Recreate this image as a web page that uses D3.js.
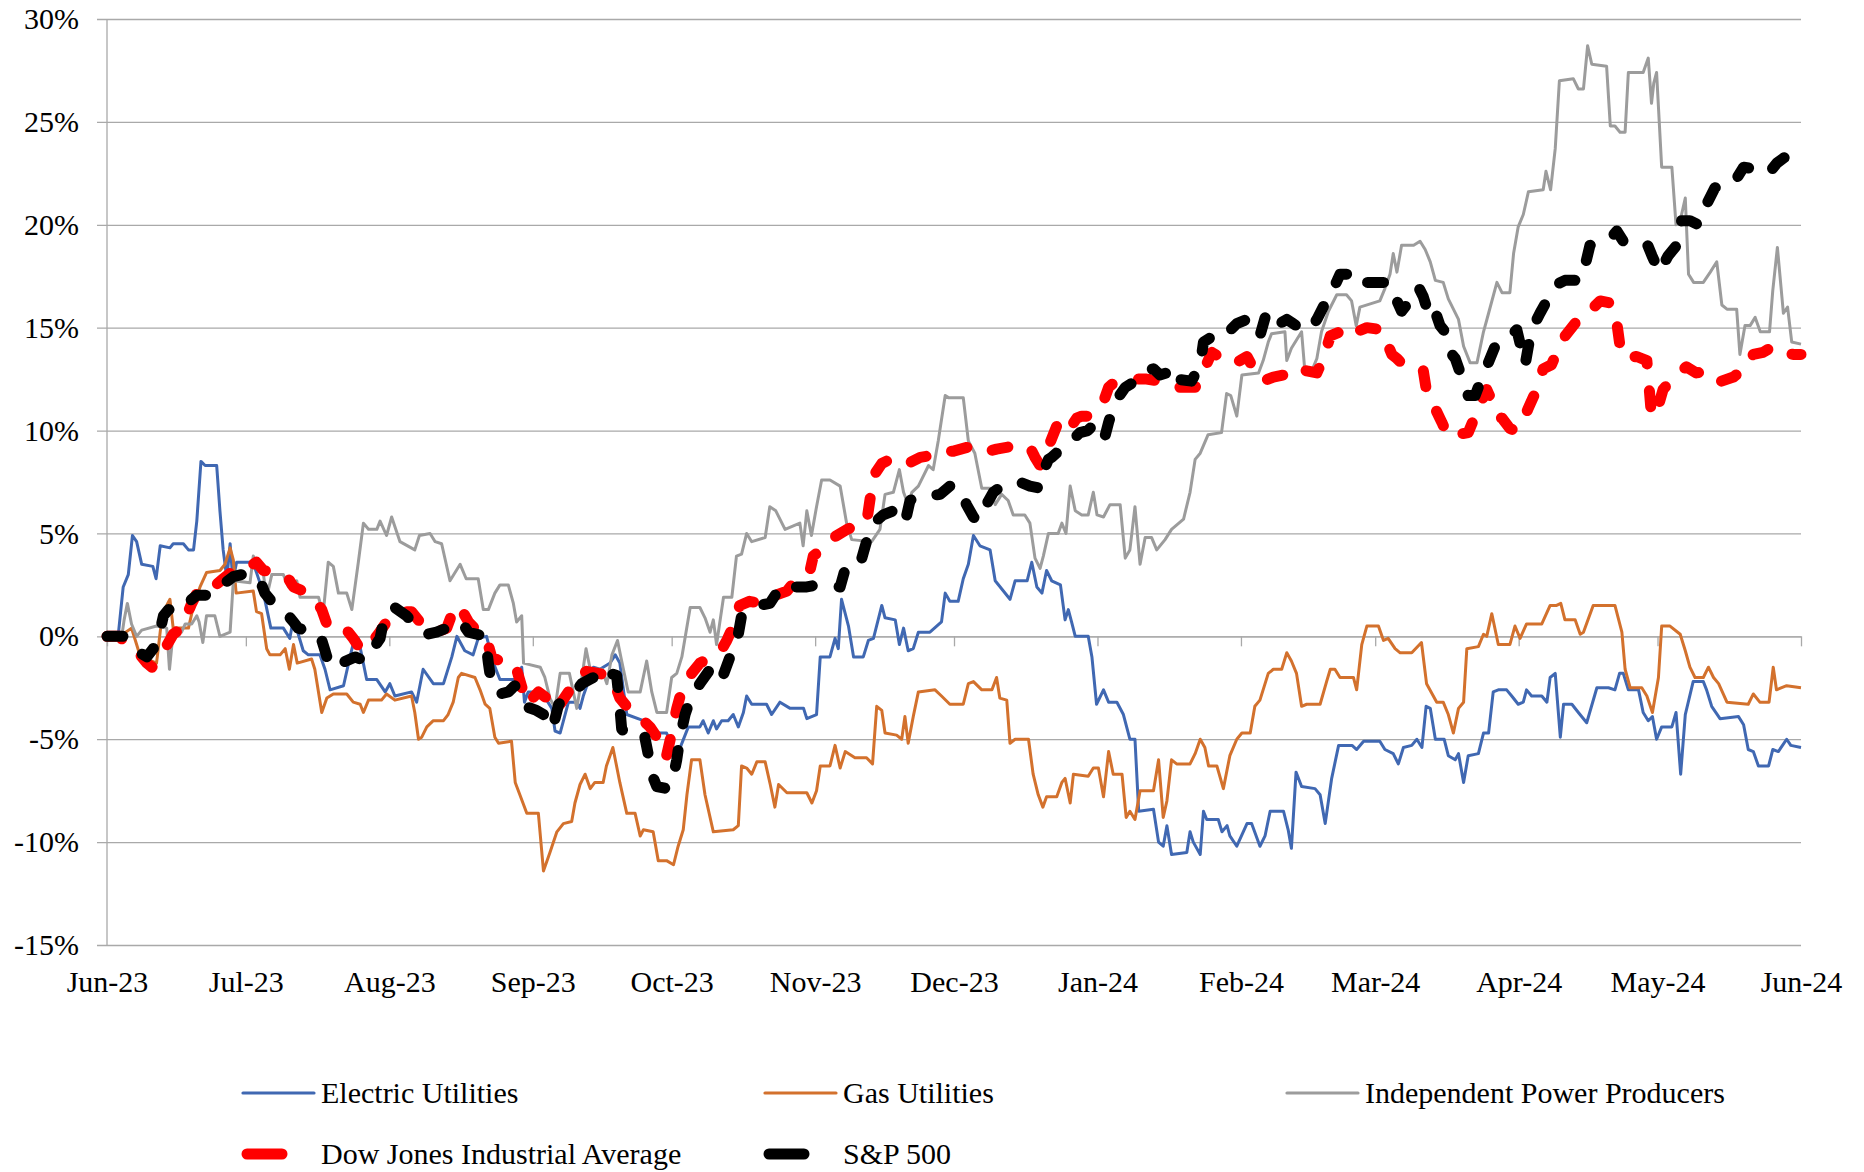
<!DOCTYPE html>
<html>
<head>
<meta charset="utf-8">
<script src="https://cdn.jsdelivr.net/npm/d3@7"></script>
<style>
  body { margin: 0; background: #fff; }
  text { font-family: "Liberation Serif", "Times New Roman", serif; fill: #000; }
</style>
</head>
<body>
<div id="chart"></div>
<script>
// x values are days since 1 Jun 2023, y values are % change
const startDate = new Date(2023, 5, 1);
const endDate = new Date(2024, 5, 1);
const monthTicks = [
  [2023, 5], [2023, 6], [2023, 7], [2023, 8], [2023, 9], [2023, 10], [2023, 11],
  [2024, 0], [2024, 1], [2024, 2], [2024, 3], [2024, 4], [2024, 5]
];
const monthLabels = ["Jun-23", "Jul-23", "Aug-23", "Sep-23", "Oct-23", "Nov-23", "Dec-23",
  "Jan-24", "Feb-24", "Mar-24", "Apr-24", "May-24", "Jun-24"];
const yTicks = [-15, -10, -5, 0, 5, 10, 15, 20, 25, 30];
const seriesNames = ["Electric Utilities", "Gas Utilities", "Independent Power Producers",
  "Dow Jones Industrial Average", "S&P 500"];

const electric = [[0,0],[2.4,0],[3.5,2.4],[4.6,3.0],[5.5,4.9],[6.4,4.6],[7.5,3.5],[9.9,3.4],[10.6,2.8],[11.5,4.4],[13.6,4.3],[14.3,4.5],[16.5,4.5],[17.6,4.2],[18.7,4.2],[19.4,5.6],[20.3,8.5],[21.2,8.3],[23.7,8.3],[24.4,6.1],[25.1,4.2],[25.9,2.8],[26.6,4.5],[27.2,2.7],[28.0,3.6],[30.9,3.6],[32.0,3.3],[33.8,2.1],[35.4,0.4],[38.1,0.4],[39.5,-0.1],[40.3,0.9],[41.2,0.2],[42.4,-0.7],[43.5,-0.9],[46.0,-0.9],[47.1,-1.6],[48.2,-2.6],[51.1,-2.4],[52.5,-1.0],[53.6,0],[54.3,-0.1],[56.1,-2.1],[58.3,-2.1],[60.1,-2.7],[61.1,-2.3],[62.2,-2.9],[65.8,-2.7],[66.9,-3.2],[68.3,-1.6],[70.5,-2.3],[72.7,-2.3],[74.5,-1.0],[75.6,0],[77.3,-0.7],[79.1,-0.9],[80.2,-0.1],[82.0,0],[83.5,-1.3],[84.9,-2.1],[88.9,-2.1],[89.6,-1.5],[90.2,-3.2],[91.0,-2.7],[93.9,-2.7],[96.1,-3.5],[96.8,-4.6],[97.9,-4.7],[99.7,-3.2],[101.5,-3.2],[102.2,-3.5],[102.9,-2.9],[105.1,-1.5],[106.5,-1.6],[108.7,-1.3],[109.8,-0.9],[110.8,-1.3],[112.3,-3.8],[115.9,-4.1],[118.8,-4.7],[120.9,-4.7],[122.4,-5.5],[123.4,-5.7],[124.2,-5.2],[125.6,-4.4],[128.1,-4.4],[128.8,-4.1],[129.9,-4.7],[131.0,-4.1],[131.7,-4.5],[132.8,-4.1],[134.2,-4.1],[135.3,-3.8],[136.4,-4.4],[137.5,-3.7],[138.2,-2.9],[139.3,-3.3],[142.5,-3.3],[143.6,-3.8],[145.4,-3.2],[147.6,-3.5],[150.5,-3.5],[151.2,-4.0],[153.3,-3.8],[154.1,-1.0],[156.2,-1.0],[157.3,-0.1],[158.0,-0.6],[158.7,1.8],[160.2,0.5],[161.3,-1.0],[163.4,-1.0],[164.5,-0.2],[165.6,-0.1],[167.4,1.5],[168.1,0.9],[170.3,0.8],[171.2,-0.4],[172.1,0.4],[173.1,-0.7],[174.2,-0.6],[175.3,0.2],[177.8,0.2],[180.3,0.7],[181.1,2.1],[182.1,1.7],[183.9,1.7],[185.0,2.8],[186.1,3.5],[187.2,4.9],[188.6,4.4],[190.8,4.2],[191.9,2.7],[195.1,1.8],[196.2,2.7],[198.8,2.7],[199.8,3.6],[200.9,2.4],[202.0,2.1],[203.0,3.2],[204.1,2.7],[206.0,2.5],[207.0,0.8],[207.7,1.3],[208.4,0.7],[209.2,0],[212.0,0],[212.8,-1.0],[213.8,-3.3],[215.3,-2.6],[216.4,-3.2],[218.2,-3.2],[219.6,-3.8],[221.0,-5.0],[222.1,-5.0],[222.9,-8.5],[226.1,-8.4],[227.2,-10.0],[228.2,-10.2],[229.0,-9.2],[230.0,-10.6],[233.3,-10.5],[234.0,-9.5],[234.7,-10.0],[236.2,-10.6],[236.9,-8.5],[237.6,-8.9],[240.1,-8.9],[240.9,-9.5],[242.0,-9.2],[242.6,-9.7],[244.1,-10.2],[246.3,-9.1],[247.3,-9.1],[249.1,-10.2],[250.2,-9.7],[251.3,-8.5],[254.2,-8.5],[255.2,-9.4],[255.9,-10.3],[256.9,-6.6],[258.1,-7.3],[261.0,-7.4],[262.1,-7.7],[263.2,-9.1],[264.6,-6.9],[266.1,-5.3],[269.0,-5.3],[270.0,-5.5],[271.5,-5.1],[275.0,-5.1],[276.1,-5.5],[277.9,-5.7],[279.0,-6.2],[280.1,-5.4],[281.9,-5.3],[283.0,-5.0],[284.1,-5.4],[285.0,-3.4],[285.9,-3.5],[287.0,-5.0],[288.9,-5.0],[289.8,-5.8],[291.3,-6.0],[292.0,-5.7],[293.1,-7.1],[294.1,-5.8],[296.3,-5.7],[297.4,-4.7],[298.5,-4.7],[299.5,-2.7],[300.6,-2.6],[302.4,-2.6],[303.5,-2.9],[304.9,-3.3],[306.0,-3.2],[306.7,-2.6],[307.8,-2.9],[310.0,-2.9],[311.1,-3.2],[311.8,-2.0],[312.9,-1.8],[314.0,-4.9],[314.7,-3.3],[316.5,-3.3],[317.9,-3.7],[319.7,-4.2],[321.9,-2.5],[324.4,-2.5],[325.8,-2.6],[326.8,-1.8],[327.6,-1.8],[328.7,-2.6],[330.9,-2.6],[331.9,-3.7],[333.0,-4.1],[333.9,-3.9],[334.8,-5.0],[335.9,-4.4],[338.1,-4.4],[339.0,-3.7],[340.0,-6.7],[341.0,-3.8],[342.7,-2.2],[344.9,-2.2],[345.6,-2.6],[346.7,-3.4],[348.5,-4.0],[352.5,-3.9],[353.6,-4.3],[354.6,-5.5],[355.7,-5.6],[356.8,-6.3],[359.0,-6.3],[359.9,-5.5],[361.1,-5.6],[362.9,-5.0],[363.8,-5.3],[366,-5.4]];

const gas = [[0,0],[2.8,0],[5.3,0.4],[6.4,-0.4],[7.5,-1.2],[9.7,-1.2],[10.7,-1.3],[11.8,0.8],[12.9,1.5],[13.6,1.8],[14.3,0.4],[17.6,0.4],[18.7,1.5],[20.1,2.4],[21.5,3.1],[24.4,3.2],[25.5,3.5],[26.6,4.3],[27.3,3.7],[27.9,2.1],[31.6,2.2],[32.3,1.2],[33.4,1.1],[34.5,-0.6],[35.2,-0.9],[37.4,-0.9],[38.5,-0.6],[39.4,-1.6],[40.3,-0.4],[41.1,-1.3],[44.2,-1.1],[44.9,-1.6],[46.4,-3.7],[47.5,-3.0],[48.9,-2.8],[51.8,-2.8],[53.2,-3.2],[54.7,-3.3],[55.4,-3.7],[56.5,-3.1],[59.3,-3.1],[60.4,-2.8],[62.2,-3.1],[65.8,-2.9],[66.5,-3.7],[67.3,-5.0],[68.0,-4.9],[69.1,-4.4],[70.5,-4.1],[72.7,-4.1],[73.7,-3.8],[74.8,-3.2],[75.9,-2.0],[76.6,-1.8],[79.5,-2.0],[80.6,-2.6],[81.7,-3.3],[82.7,-3.5],[83.8,-4.9],[84.6,-5.2],[87.4,-5.1],[88.2,-7.1],[89.2,-7.7],[90.7,-8.6],[93.2,-8.6],[94.3,-11.4],[95.7,-10.5],[97.2,-9.5],[98.6,-9.1],[100.4,-9.0],[101.1,-8.1],[102.2,-7.2],[103.3,-6.7],[104.4,-7.4],[105.4,-7.1],[107.2,-7.1],[107.9,-6.3],[109.3,-5.4],[110.8,-7.1],[112.3,-8.6],[114.1,-8.6],[115.2,-9.7],[115.9,-9.4],[118.0,-9.5],[119.1,-10.9],[120.9,-10.9],[122.4,-11.1],[123.4,-10.2],[124.5,-9.4],[125.3,-7.7],[126.3,-6.0],[128.1,-6.0],[129.2,-7.7],[131.0,-9.5],[135.3,-9.4],[136.4,-9.2],[137.1,-6.3],[138.2,-6.4],[139.3,-6.7],[140.4,-6.1],[142.2,-6.1],[143.3,-7.2],[144.3,-8.3],[145.1,-7.2],[146.9,-7.6],[151.2,-7.6],[152.3,-8.1],[153.3,-7.5],[154.1,-6.3],[156.2,-6.3],[157.3,-5.3],[158.4,-6.4],[159.5,-5.6],[161.6,-5.9],[164.1,-5.9],[165.4,-6.2],[166.3,-3.4],[167.4,-3.6],[168.1,-4.7],[170.6,-4.8],[171.7,-5.0],[172.4,-3.9],[173.1,-5.2],[174.2,-3.9],[175.3,-2.7],[178.9,-2.6],[180.3,-2.9],[182.1,-3.3],[185.0,-3.3],[186.1,-2.3],[187.2,-2.2],[189.0,-2.6],[191.2,-2.6],[192.2,-2.0],[192.9,-3.0],[194.4,-3.1],[195.1,-5.2],[196.2,-5.0],[199.1,-5.0],[200.1,-6.7],[201.2,-7.7],[202.2,-8.3],[203.0,-7.8],[205.2,-7.8],[206.3,-7.1],[207.0,-6.9],[208.1,-8.1],[208.8,-6.7],[212.0,-6.8],[213.1,-6.4],[214.2,-6.4],[215.3,-7.8],[216.4,-5.6],[217.4,-6.7],[219.3,-6.7],[220.2,-8.8],[221.0,-8.5],[222.1,-8.9],[223.2,-7.5],[226.1,-7.5],[227.2,-6.0],[228.2,-8.8],[229.0,-8.0],[230.0,-6.0],[231.1,-6.2],[234.0,-6.2],[235.1,-5.7],[236.2,-5.0],[237.2,-5.4],[238.0,-6.3],[239.8,-6.3],[241.2,-7.4],[242.6,-5.8],[244.1,-5.0],[245.2,-4.7],[247.0,-4.7],[248.0,-3.4],[249.1,-3.1],[250.9,-1.8],[252.0,-1.6],[253.8,-1.6],[254.9,-0.8],[255.9,-1.2],[257.0,-1.8],[258.1,-3.4],[259.2,-3.3],[262.1,-3.3],[263.5,-2.2],[264.3,-1.6],[265.3,-1.6],[266.4,-2.0],[269.3,-2.0],[270.0,-2.6],[271.1,-0.4],[272.2,0.5],[274.7,0.5],[275.8,-0.2],[276.8,-0.1],[278.3,-0.6],[279.4,-0.8],[281.9,-0.8],[284.0,-0.3],[285.1,-2.3],[287.3,-3.2],[288.7,-3.2],[289.8,-3.8],[290.9,-4.7],[292.0,-3.5],[293.1,-3.2],[293.8,-0.6],[296.3,-0.5],[297.4,0.1],[298.1,0],[299.2,1.1],[300.6,-0.4],[303.1,-0.4],[304.2,0.5],[305.3,-0.1],[306.7,0.6],[310.0,0.6],[311.8,1.5],[313.2,1.5],[314.1,1.6],[315.0,0.8],[317.2,0.8],[318.3,0.1],[319.0,0.2],[321.1,1.5],[325.8,1.5],[327.3,0.2],[328.0,-1.6],[329.1,-2.5],[331.6,-2.5],[332.7,-2.9],[333.9,-3.7],[335.2,-2.0],[335.9,0.5],[337.7,0.5],[339.9,0.1],[341.0,-0.7],[342.0,-1.5],[343.1,-2.0],[344.9,-2.0],[346.0,-1.5],[347.1,-2.0],[348.2,-2.3],[350.0,-3.2],[354.6,-3.3],[355.7,-2.8],[357.1,-3.2],[359.1,-3.2],[360.0,-1.5],[360.7,-2.6],[362.9,-2.4],[366,-2.5]];

const ipp = [[0,0],[3.2,0],[3.7,0.8],[4.4,1.6],[5.3,0.6],[6.4,0],[7.5,0.3],[10.7,0.5],[12.9,0.4],[13.5,-1.6],[14.3,0.2],[16.1,0.2],[16.9,0.6],[18.3,0.6],[19.4,1.0],[19.9,0.7],[20.7,-0.3],[21.5,1.0],[23.3,1.0],[24.4,0],[26.6,0.2],[27.3,2.7],[30.9,2.6],[31.6,3.9],[33.8,3.0],[34.5,1.9],[35.6,3.0],[38.1,3.0],[39.2,2.4],[41.0,2.7],[41.7,1.9],[45.7,1.9],[46.7,1.1],[47.8,3.6],[48.9,3.4],[50.0,2.1],[51.8,2.1],[52.9,1.3],[54.3,3.6],[55.4,5.5],[56.5,5.2],[58.3,5.2],[59.0,5.6],[60.4,4.9],[61.5,5.8],[63.3,4.6],[66.5,4.2],[67.5,4.9],[69.8,5.0],[70.9,4.6],[72.3,4.5],[74.1,2.7],[76.3,3.5],[77.6,2.8],[80.2,2.8],[81.3,1.3],[82.4,1.3],[83.8,2.1],[84.9,2.5],[86.7,2.5],[87.8,1.6],[88.5,0.7],[89.6,1.0],[90.0,-1.3],[93.6,-1.5],[94.6,-2.0],[95.7,-3.0],[96.8,-3.5],[97.9,-1.8],[99.9,-1.8],[101.5,-3.5],[102.6,-2.0],[103.5,-0.6],[104.4,-1.6],[106.9,-1.6],[108.0,-2.3],[109.1,-0.9],[110.3,-0.2],[111.2,-1.2],[112.6,-2.7],[115.2,-2.7],[116.6,-1.2],[117.7,-2.7],[118.8,-3.7],[120.9,-3.7],[122.0,-2.0],[123.1,-1.8],[124.2,-1.0],[126.0,1.4],[128.1,1.4],[129.2,0.9],[130.3,0.2],[131.0,0.8],[131.7,-0.4],[133.2,1.9],[135.0,1.9],[136.0,3.9],[137.1,4.0],[138.2,5.0],[139.3,4.6],[142.2,4.8],[143.2,6.3],[144.5,6.1],[146.5,5.2],[149.7,5.5],[150.4,4.4],[151.2,6.1],[152.2,4.9],[153.3,6.3],[154.4,7.6],[156.2,7.6],[158.4,7.3],[159.8,5.5],[160.9,4.7],[165.2,4.6],[167.0,5.2],[168.1,6.9],[169.9,7.0],[171.2,8.1],[172.1,7.0],[173.1,6.4],[173.9,7.0],[175.3,7.3],[177.5,8.3],[178.5,8.1],[179.6,9.5],[181.1,11.7],[181.8,11.6],[185.0,11.6],[186.1,9.5],[187.5,8.9],[189.0,7.2],[190.8,7.2],[191.9,6.4],[193.3,6.9],[194.7,6.6],[195.8,5.9],[198.3,5.9],[199.4,5.5],[200.5,3.8],[201.6,3.3],[202.3,3.9],[203.4,5.0],[205.5,5.0],[206.3,5.5],[207.2,5.0],[208.1,7.3],[209.2,6.1],[210.6,5.9],[212.0,5.9],[213.1,7.0],[213.9,5.9],[215.3,5.8],[216.7,6.4],[218.9,6.4],[220.0,3.8],[221.0,4.2],[222.1,6.3],[223.2,3.5],[224.3,4.8],[225.7,4.8],[226.8,4.2],[228.6,4.7],[230.0,5.2],[232.6,5.7],[234.0,7.0],[235.1,8.6],[236.2,8.9],[237.9,9.8],[240.8,9.9],[241.9,11.8],[242.8,11.7],[244.1,10.7],[245.2,12.7],[248.8,12.8],[249.8,13.4],[250.9,14.3],[251.6,14.7],[254.5,14.8],[254.9,13.4],[255.9,14.0],[258.1,14.8],[258.8,12.9],[260.3,12.9],[261.4,13.5],[262.4,14.8],[263.9,15.8],[265.7,16.6],[267.8,16.6],[268.9,16.3],[269.9,15.1],[270.7,16.0],[275.0,16.3],[276.1,16.9],[277.2,17.6],[277.9,18.6],[278.7,17.7],[279.7,19.0],[282.3,19.0],[283.7,19.2],[284.8,18.8],[285.9,18.2],[287.0,17.3],[288.7,17.2],[289.8,16.4],[292.0,15.4],[293.1,14.1],[294.5,13.3],[296.0,13.3],[297.4,14.8],[298.5,15.7],[300.3,17.2],[301.4,16.7],[303.1,16.7],[303.9,18.6],[304.9,19.9],[306.0,20.5],[307.1,21.6],[310.3,21.7],[310.9,22.6],[311.9,21.7],[312.9,23.7],[313.8,27.0],[316.8,27.1],[317.9,26.6],[319.0,26.6],[319.9,28.7],[320.8,27.8],[324.0,27.7],[324.8,24.8],[325.8,24.8],[326.9,24.5],[328.0,24.5],[328.7,27.4],[331.9,27.4],[333.0,28.1],[333.7,25.9],[334.2,26.9],[334.8,27.4],[335.9,22.8],[338.1,22.8],[339.0,20.0],[339.9,20.2],[341.0,21.3],[341.7,17.6],[342.8,17.2],[344.9,17.2],[346.4,17.7],[347.8,18.2],[348.9,16.1],[350.0,15.9],[352.1,15.9],[352.8,13.7],[353.9,15.1],[355.0,15.1],[356.1,15.5],[357.2,14.8],[359.2,14.8],[359.9,16.8],[360.9,18.9],[362.2,15.7],[363.1,16.0],[364.0,14.3],[366,14.2]];

const dow = [[0,0],[2.8,0],[4.6,-0.6],[6.8,-0.8],[8.6,-1.3],[9.7,-1.5],[11.5,-1.0],[14.3,0.1],[16.1,0.4],[18.3,1.6],[20.1,2.4],[23.0,2.4],[25.1,2.8],[27.3,3.2],[29.5,3.2],[32.3,3.6],[33.8,3.2],[37.7,3.1],[39.2,2.8],[40.3,2.4],[42.4,2.2],[44.6,1.9],[46.4,1.3],[47.8,0.4],[51.8,0.3],[53.2,-0.1],[55.0,-0.7],[56.8,-0.4],[58.6,0.1],[60.4,0.7],[61.9,1.1],[63.3,1.2],[65.8,1.2],[67.6,0.7],[71.2,0.2],[73.4,0.4],[75.2,1.5],[76.6,1.3],[78.1,0.7],[80.6,0.1],[82.0,-0.1],[83.1,-1.0],[84.9,-1.2],[87.4,-1.2],[88.5,-1.6],[90.7,-3.3],[93.2,-2.7],[95.0,-3.0],[96.4,-3.7],[98.2,-3.2],[100.0,-2.6],[101.5,-2.0],[103.6,-1.7],[108.6,-1.9],[109.8,-2.4],[110.8,-3.0],[113.7,-3.8],[115.9,-4.1],[117.3,-4.4],[118.8,-4.9],[119.8,-5.8],[120.9,-5.8],[122.0,-4.7],[123.1,-3.5],[124.2,-2.6],[125.6,-2.0],[128.1,-1.3],[130.6,-1.0],[132.4,-0.8],[133.9,-0.2],[135.3,0.5],[136.7,1.5],[138.8,1.7],[141.4,1.6],[143.2,1.9],[146.9,2.2],[149.0,2.8],[151.9,3.2],[152.6,3.9],[153.7,4.1],[155.5,4.6],[157.7,4.9],[159.9,5.2],[162.0,5.4],[164.1,5.5],[165.6,7.8],[167.4,8.4],[169.2,8.6],[172.1,8.6],[173.1,8.4],[175.7,8.7],[178.5,8.8],[179.6,9.0],[182.9,9.0],[186.1,9.2],[189.0,8.9],[192.2,9.1],[194.7,9.2],[197.2,9.3],[199.4,9.2],[200.5,8.7],[201.6,8.3],[203.4,9.2],[205.5,10.4],[207.7,10.0],[209.5,10.6],[210.6,10.7],[212.3,10.7],[214.2,11.2],[215.3,11.4],[216.4,12.1],[217.4,12.3],[219.6,12.4],[221.7,12.5],[224.6,12.5],[227.5,12.4],[229.0,12.4],[231.8,12.1],[235.1,12.1],[236.9,12.9],[238.7,13.8],[240.9,13.5],[243.0,13.2],[244.8,13.4],[246.3,13.6],[248.0,12.9],[249.8,12.4],[252.0,12.6],[254.2,12.7],[256.3,13.1],[259.2,12.9],[261.4,12.8],[262.8,13.5],[264.3,14.6],[266.4,14.8],[268.6,14.5],[270.0,14.8],[272.2,15.0],[275.4,14.9],[276.5,14.3],[277.6,13.7],[278.7,13.5],[280.5,13.1],[283.0,13.1],[284.4,12.9],[285.1,11.9],[286.9,11.1],[288.4,10.4],[289.8,9.7],[291.6,9.8],[294.1,9.9],[296.3,11.1],[298.1,12.0],[299.5,11.3],[300.3,10.7],[301.4,10.6],[303.1,10.1],[304.2,10.0],[305.6,10.3],[307.1,11.1],[308.9,12.0],[310.3,13.0],[312.1,13.2],[313.6,14.0],[314.7,14.5],[316.8,15.1],[318.9,15.7],[320.8,15.9],[322.6,16.3],[324.7,16.2],[325.8,15.9],[326.9,14.1],[328.0,13.5],[330.5,13.6],[332.7,13.4],[333.7,10.7],[334.8,10.9],[336.2,12.0],[338.7,12.6],[341.2,13.1],[343.4,12.8],[346.3,12.9],[348.8,12.4],[351.4,12.6],[354.3,13.1],[355.7,13.7],[357.8,13.8],[360.0,14.1],[362.2,13.8],[364.3,13.7],[366,13.7]];

const sp500 = [[0,0],[3.5,0],[5.0,-0.2],[6.4,-0.7],[8.6,-1.0],[10.0,-0.6],[11.1,-0.1],[12.2,1.0],[13.3,1.3],[15.4,1.2],[17.2,1.6],[19.4,2.0],[22.3,2.0],[24.1,2.2],[25.5,2.6],[27.3,2.9],[29.1,3.0],[31.6,3.0],[33.1,2.7],[34.1,2.1],[35.9,1.6],[37.7,1.3],[38.8,1.1],[40.3,0.7],[41.3,0.4],[43.9,0.2],[46.0,0.1],[47.1,-0.7],[48.2,-1.5],[50.7,-1.3],[53.6,-1.0],[55.7,-1.2],[57.5,-0.6],[59.0,-0.1],[59.7,0.7],[61.1,1.3],[62.2,1.4],[64.7,1.0],[67.3,0.4],[69.1,0.1],[71.2,0.2],[73.4,0.4],[75.2,0.7],[76.6,0.7],[78.1,0.2],[81.7,0],[82.4,-1.3],[83.1,-2.4],[84.9,-2.8],[86.7,-2.7],[88.1,-2.4],[89.2,-3.0],[90.3,-3.4],[92.8,-3.6],[94.3,-3.8],[96.1,-4.5],[96.8,-4.0],[97.6,-3.3],[99.3,-3.0],[101.1,-2.7],[102.6,-2.3],[105.1,-2.0],[106.9,-2.3],[108.7,-1.8],[110.1,-1.9],[110.7,-3.2],[111.2,-4.5],[113.0,-5.0],[116.2,-4.9],[117.0,-5.8],[117.5,-6.6],[118.8,-7.3],[120.9,-7.4],[122.0,-7.2],[123.1,-6.0],[123.8,-4.9],[124.9,-3.8],[125.8,-3.2],[128.1,-2.3],[130.3,-1.6],[131.7,-1.6],[132.8,-2.1],[134.6,-1.0],[136.4,0.1],[137.1,1.0],[138.9,1.3],[140.7,1.5],[143.2,1.6],[145.8,2.5],[148.3,2.4],[151.2,2.4],[153.3,2.5],[155.5,2.5],[158.4,2.4],[159.4,3.2],[160.5,3.5],[162.7,3.5],[164.1,4.6],[165.6,5.5],[167.7,5.9],[169.9,6.1],[171.7,6.4],[172.7,5.8],[173.5,6.6],[174.9,6.8],[177.1,6.8],[180.0,6.9],[182.1,7.3],[184.3,7.2],[185.7,6.4],[187.2,5.8],[188.3,5.6],[190.0,6.4],[191.5,7.0],[193.3,7.3],[195.8,7.5],[197.2,7.5],[199.4,7.3],[201.6,7.2],[202.3,8.0],[203.4,8.6],[204.1,8.7],[206.6,9.2],[208.4,9.5],[210.2,9.9],[211.9,10.0],[213.8,10.4],[215.6,9.7],[216.4,10.4],[217.8,11.4],[220.0,12.1],[222.2,12.4],[224.0,12.9],[226.1,13.0],[227.5,12.7],[229.0,12.8],[230.0,13.1],[231.1,12.5],[234.3,12.4],[236.2,13.2],[236.9,14.3],[238.3,14.5],[240.5,14.4],[242.3,14.8],[244.1,15.2],[246.3,15.4],[247.7,15.2],[249.1,14.6],[250.6,15.8],[252.0,15.5],[253.4,15.2],[254.9,15.4],[256.3,15.2],[258.1,14.9],[259.9,14.9],[261.4,15.4],[263.2,16.2],[265.0,16.9],[266.4,17.6],[268.6,17.6],[270.0,17.1],[271.1,17.2],[276.1,17.2],[277.9,17.0],[278.7,16.3],[279.7,15.8],[281.5,16.3],[283.3,17.0],[284.4,16.5],[285.1,16.0],[286.2,16.3],[288.0,15.1],[289.1,14.8],[290.2,13.8],[291.3,13.5],[292.7,12.6],[294.1,11.7],[295.6,11.7],[296.6,12.3],[298.1,13.1],[299.9,14.1],[301.7,14.5],[303.1,14.6],[304.6,14.9],[306.4,13.2],[307.1,14.1],[307.8,14.9],[309.6,15.7],[311.8,16.6],[313.2,17.1],[315.0,17.3],[318.6,17.3],[320.4,19.0],[322.6,19.1],[324.7,19.3],[326.2,19.7],[327.6,19.2],[331.0,19.2],[332.7,19.1],[333.8,18.5],[335.4,17.7],[337.3,18.5],[339.5,19.1],[340.2,20.2],[342.0,20.2],[343.8,20.0],[345.6,21.0],[347.4,21.8],[349.2,21.9],[351.4,22.0],[352.5,22.4],[353.6,22.8],[356.4,22.7],[359.0,22.5],[360.8,23.0],[362.6,23.3],[364.0,22.9],[366,22.7]];

const width = 1864, height = 1172;
const plot = { left: 107, right: 1801, top: 19, bottom: 945 };
const gridColor = "#A9A9A9";

const svg = d3.select("#chart").append("svg")
  .attr("width", width)
  .attr("height", height);

const x = d3.scaleTime()
  .domain([startDate, endDate])
  .range([plot.left, plot.right]);

const y = d3.scaleLinear()
  .domain([-15, 30])
  .range([plot.bottom, plot.top]);

const toDate = d => new Date(startDate.getTime() + d * 864e5);
const tickDates = monthTicks.map(m => new Date(m[0], m[1], 1));

// gridlines + y labels (ticks stick out 10px left of the axis)
const yAxis = svg.append("g")
  .attr("transform", "translate(" + plot.right + ",0)")
  .call(d3.axisLeft(y)
    .tickValues(yTicks)
    .tickSize(plot.right - plot.left + 10)
    .tickPadding(18)
    .tickFormat(d => d + "%"));
yAxis.select(".domain").remove();
yAxis.selectAll("line").attr("stroke", gridColor).attr("stroke-width", 1.3);
yAxis.selectAll("text").style("font-size", "30px").style("font-family", "Liberation Serif");

// vertical axis line
svg.append("line")
  .attr("x1", plot.left).attr("x2", plot.left)
  .attr("y1", plot.top).attr("y2", plot.bottom)
  .attr("stroke", gridColor).attr("stroke-width", 1.3);

// category axis crosses at 0%
const xAxis = svg.append("g")
  .attr("transform", "translate(0," + y(0) + ")")
  .call(d3.axisBottom(x).tickValues(tickDates).tickSize(10).tickSizeOuter(0).tickFormat(""));
xAxis.selectAll("line, path").attr("stroke", gridColor).attr("stroke-width", 1.3);

// month labels sit at the bottom of the plot
const xLabels = svg.append("g")
  .attr("transform", "translate(0," + plot.bottom + ")")
  .call(d3.axisBottom(x).tickValues(tickDates).tickSize(0).tickPadding(26)
    .tickFormat((d, i) => monthLabels[i]));
xLabels.select(".domain").remove();
xLabels.selectAll("text").style("font-size", "30px").style("font-family", "Liberation Serif");

const line = d3.line()
  .x(d => x(toDate(d[0])))
  .y(d => y(d[1]));

const series = [
  { data: electric, color: "#4068B2", width: 3, dash: null },
  { data: gas, color: "#D3712D", width: 3, dash: null },
  { data: ipp, color: "#9C9C9C", width: 3, dash: null },
  { data: dow, color: "#FF0000", width: 11, dash: "16,27" },
  { data: sp500, color: "#000000", width: 11, dash: "16,27" }
];

series.forEach(s => {
  svg.append("path")
    .datum(s.data)
    .attr("fill", "none")
    .attr("stroke", s.color)
    .attr("stroke-width", s.width)
    .attr("stroke-linejoin", "round")
    .attr("stroke-linecap", s.dash ? "round" : "butt")
    .attr("stroke-dasharray", s.dash)
    .attr("d", line);
});

// legend
const legendCols = [243, 765, 1287];
const legendRows = [1093, 1154];
const legend = svg.append("g");
series.forEach((s, i) => {
  const lx = legendCols[i % 3], ly = legendRows[Math.floor(i / 3)];
  const g = legend.append("g").attr("transform", "translate(" + lx + "," + ly + ")");
  if (s.dash) {
    g.append("line").attr("x1", 4).attr("x2", 39).attr("y1", 0).attr("y2", 0)
      .attr("stroke", s.color).attr("stroke-width", s.width).attr("stroke-linecap", "round");
  } else {
    g.append("line").attr("x1", 0).attr("x2", 71).attr("y1", 0).attr("y2", 0)
      .attr("stroke", s.color).attr("stroke-width", 3.2).attr("stroke-linecap", "round");
  }
  g.append("text")
    .attr("x", 78)
    .attr("dy", "0.33em")
    .style("font-size", "30px")
    .text(seriesNames[i]);
});
</script>
</body>
</html>
